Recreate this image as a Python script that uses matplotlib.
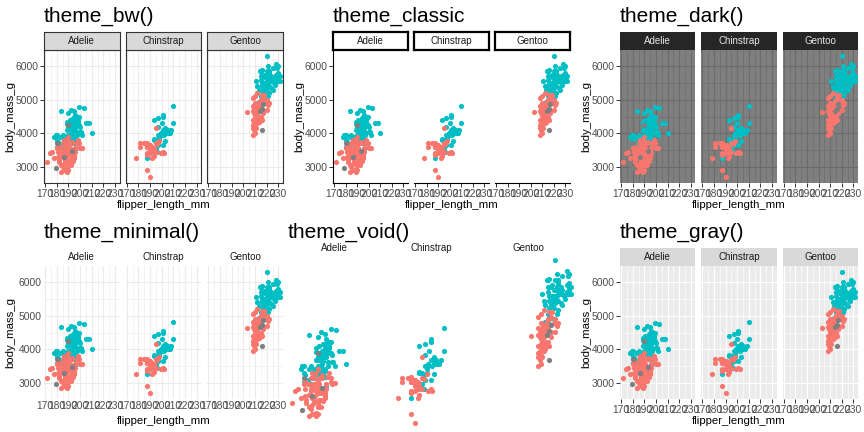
import numpy as np
import matplotlib.pyplot as plt

plt.rcParams['font.family'] = ['Liberation Sans', 'DejaVu Sans']

species = ['Adelie', 'Chinstrap', 'Gentoo']
x_ticks = [170, 180, 190, 200, 210, 220, 230]
y_ticks = [3000, 4000, 5000, 6000]
x_minor = [175, 185, 195, 205, 215, 225]
y_minor = [3500, 4500, 5500]

# flipper_length_mm, body_mass_g (approximate)
adelie_f_flip = [186, 195, 193, 181, 182, 185, 195, 184, 174, 189, 183, 187, 172, 178, 188, 195,
                 180, 181, 182, 186, 185, 190, 191, 187, 186, 191, 189, 187, 190, 184, 195, 190,
                 190, 187, 185, 190, 193, 185, 184, 195, 187, 192, 186, 192, 190, 198, 199, 190,
                 196, 197, 199, 191, 184, 187, 189, 193, 194, 187, 196, 187, 189, 200, 191, 192,
                 190, 185, 186, 190, 176, 202, 192, 188, 181]
adelie_f_mass = [3800, 3250, 3450, 3625, 3200, 3700, 3450, 3325, 3400, 3800, 3550, 3200, 3150, 3250, 3300, 3325,
                 3550, 3300, 3150, 3100, 3000, 3450, 3500, 3450, 2900, 3550, 2850, 3150, 3600, 2850, 3350, 3050,
                 3600, 3550, 3400, 3350, 3700, 3450, 3550, 3300, 3700, 3200, 3250, 3400, 3150, 3800, 3700, 2900,
                 3450, 3725, 3600, 3700, 3050, 3700, 2925, 3750, 3175, 3450, 3550, 3500, 3400, 3550, 3200, 3050,
                 3150, 3300, 3475, 3900, 3450, 3575, 3350, 2900, 3450]
adelie_m_flip = [181, 190, 195, 191, 198, 197, 194, 180, 185, 180, 187, 180, 178, 184, 196, 190,
                 184, 195, 196, 190, 186, 190, 196, 197, 190, 195, 191, 193, 197, 190, 197, 195,
                 200, 194, 199, 203, 210, 205, 208, 199, 193, 194, 195, 192, 190, 198, 202, 195,
                 196, 194, 191, 193, 201, 199, 183, 179, 187, 189, 196, 191, 194, 185, 193, 196,
                 189, 192, 198, 200, 195, 197, 191, 189, 193]
adelie_m_mass = [3750, 3650, 4675, 3800, 4400, 4500, 4200, 3600, 3950, 3800, 3800, 3950, 3900, 3900, 4150, 3950,
                 4650, 3900, 4400, 4600, 3500, 3900, 4300, 4250, 4150, 3850, 4400, 4000, 3950, 3900, 4300, 4450,
                 4050, 4450, 4775, 4750, 4000, 4300, 4300, 4500, 4300, 4075, 4150, 3925, 3725, 4350, 3950, 3725,
                 4250, 3800, 4100, 3875, 4050, 4250, 3650, 3950, 3900, 4275, 3525, 4200, 3775, 3550, 4200, 4550,
                 4100, 4700, 4500, 4200, 4350, 4050, 4250, 4350, 4150]
adelie_na_flip = [193, 190, 186, 180, 179]
adelie_na_mass = [3475, 4250, 3300, 3700, 2975]

chinstrap_f_flip = [192, 187, 193, 190, 187, 190, 185, 181, 178, 195, 187, 190, 191, 187, 193, 189,
                    193, 187, 196, 195, 199, 191, 202, 190, 193, 187, 195, 192, 187, 198, 192, 190, 201, 181]
chinstrap_f_mass = [3500, 3400, 3500, 3525, 2900, 2700, 3700, 3700, 3250, 3700, 3725, 3400, 3575, 3600, 3325, 3650,
                    3450, 3350, 3675, 3450, 3400, 3450, 3400, 3575, 3550, 3600, 4150, 3250, 3675, 3775, 3600, 3650,
                    3450, 3600]
chinstrap_m_flip = [187, 193, 196, 197, 193, 197, 201, 201, 210, 210, 207, 203, 205, 199, 195, 196,
                    193, 197, 198, 203, 201, 197, 205, 203, 201, 203, 198, 200, 194, 202, 206, 199, 195, 208]
chinstrap_m_mass = [3250, 3800, 3450, 3950, 4400, 4450, 4550, 4500, 4800, 4300, 4000, 4100, 4000, 3950, 3800, 3750,
                    3825, 3650, 3800, 4050, 4100, 4200, 4100, 4150, 3650, 3775, 3900, 4300, 3500, 3950, 4000, 4000,
                    3550, 4100]

gentoo_f_flip = [211, 210, 210, 213, 210, 211, 209, 214, 210, 212, 208, 214, 215, 210, 208, 212,
                 211, 217, 210, 208, 217, 213, 209, 216, 209, 210, 215, 213, 220, 218, 217, 208,
                 212, 214, 215, 210, 209, 208, 203, 212, 213, 212, 211, 210, 222, 221, 220, 211,
                 208, 214, 216, 219, 210, 208, 215, 209, 212, 216]
gentoo_f_mass = [4500, 4450, 4150, 4650, 4200, 4150, 4600, 4875, 4700, 4750, 4400, 4700, 4800, 4550, 4650, 4300,
                 4750, 4600, 4625, 4250, 4700, 4500, 4300, 4400, 4250, 4400, 4500, 4325, 5000, 5150, 5050, 5050,
                 5200, 4750, 5000, 4900, 4100, 3950, 4625, 4450, 4350, 4600, 4350, 5100, 4900, 4850, 4700, 4800,
                 4800, 4950, 5000, 4900, 4000, 4150, 4400, 4725, 4875, 5150]
gentoo_m_flip = [217, 221, 230, 220, 230, 222, 220, 231, 219, 215, 220, 228, 224, 225, 223, 217,
                 222, 216, 222, 215, 225, 230, 218, 220, 212, 220, 226, 220, 215, 229, 221, 224,
                 231, 218, 224, 228, 222, 218, 225, 215, 219, 228, 230, 216, 220, 216, 227, 224,
                 216, 222, 221, 213, 228, 222, 223, 225, 230, 213, 215, 221, 211, 214, 216, 219]
gentoo_m_mass = [5700, 5700, 5800, 5400, 5650, 5850, 5850, 5550, 5250, 5700, 5400, 6050, 5350, 5300, 5550, 5300,
                 5400, 5000, 5200, 5100, 5650, 5550, 5400, 5350, 5400, 5500, 5500, 5500, 5850, 5950, 5500, 5650,
                 5700, 5750, 5550, 5600, 5800, 5500, 5950, 5600, 5650, 5750, 6000, 5250, 6300, 5400, 5450, 5700,
                 5500, 5750, 6000, 5300, 5550, 5600, 5650, 5550, 5700, 4925, 4925, 5100, 5550, 5850, 5875, 5000]
gentoo_na_flip = [216, 216, 217, 214]
gentoo_na_mass = [4725, 4100, 4875, 4650]

female = {'Adelie': (adelie_f_flip, adelie_f_mass), 'Chinstrap': (chinstrap_f_flip, chinstrap_f_mass),
          'Gentoo': (gentoo_f_flip, gentoo_f_mass)}
male = {'Adelie': (adelie_m_flip, adelie_m_mass), 'Chinstrap': (chinstrap_m_flip, chinstrap_m_mass),
        'Gentoo': (gentoo_m_flip, gentoo_m_mass)}
nosex = {'Adelie': (adelie_na_flip, adelie_na_mass), 'Chinstrap': ([], []),
         'Gentoo': (gentoo_na_flip, gentoo_na_mass)}

themes = {
    'bw':      dict(bg='white', major='#EBEBEB', minor='#EBEBEB', border='#333333',
                    strip='#D9D9D9', strip_edge='#333333', strip_lw=0.8, strip_txt='#1A1A1A', ticks=True),
    'classic': dict(bg='white', major=None, minor=None, border=None, axis_line=True,
                    strip='white', strip_edge='black', strip_lw=1.6, strip_txt='#1A1A1A', ticks=True),
    'dark':    dict(bg='#7F7F7F', major='#6B6B6B', minor='#6B6B6B', border=None,
                    strip='#262626', strip_edge=None, strip_lw=0, strip_txt='#E5E5E5', ticks=True),
    'minimal': dict(bg='white', major='#EBEBEB', minor='#EBEBEB', border=None,
                    strip=None, strip_edge=None, strip_lw=0, strip_txt='#1A1A1A', ticks=False),
    'gray':    dict(bg='#EBEBEB', major='white', minor='white', border=None,
                    strip='#D9D9D9', strip_edge=None, strip_lw=0, strip_txt='#1A1A1A', ticks=True),
}

W, H = 864, 432
fig = plt.figure(figsize=(8.64, 4.32), dpi=100)
XLIM = (169.05, 233.95)
YLIM = (2520, 6480)
COLS = {'female': '#F8766D', 'male': '#00BFC4', 'na': '#7F7F7F'}
PT = 14


def px_axes(x0, y0, x1, y1):
    # pixel box, y measured from the top
    return fig.add_axes([x0 / W, 1 - y1 / H, (x1 - x0) / W, (y1 - y0) / H])


def points(ax, sp):
    ax.scatter(*male[sp], s=PT, c=COLS['male'], linewidths=0, zorder=3)
    ax.scatter(*female[sp], s=PT, c=COLS['female'], linewidths=0, zorder=3)
    if len(nosex[sp][0]):
        ax.scatter(*nosex[sp], s=PT, c=COLS['na'], linewidths=0, zorder=3)


def themed_plot(title, name, left, right, top):
    t = themes[name]
    strip_top, ptop, pbot = top + 16, top + 34, top + 167
    gap = 6
    pw = (right - left - 2 * gap) / 3
    fig.text(left / W, 1 - (top) / H, title, fontsize=15, va='center', ha='left')
    for i, sp in enumerate(species):
        x0 = left + i * (pw + gap)
        ax = px_axes(x0, ptop, x0 + pw, pbot)
        ax.set_facecolor(t['bg'])
        ax.set_xlim(*XLIM)
        ax.set_ylim(*YLIM)
        ax.set_xticks(x_ticks)
        ax.set_xticks(x_minor, minor=True)
        ax.set_yticks(y_ticks)
        ax.set_yticks(y_minor, minor=True)
        ax.set_xticklabels([str(v) for v in x_ticks])
        ax.set_yticklabels([str(v) for v in y_ticks])
        if t['major']:
            ax.grid(True, which='major', color=t['major'], lw=0.8, zorder=0)
            ax.grid(True, which='minor', color=t['minor'], lw=0.4, zorder=0)
        ax.set_axisbelow(True)
        for s in ax.spines.values():
            s.set_visible(False)
        if t['border']:
            for s in ax.spines.values():
                s.set_visible(True)
                s.set_color(t['border'])
                s.set_linewidth(0.8)
        if t.get('axis_line'):
            ax.spines['bottom'].set_visible(True)
            ax.spines['bottom'].set_color('black')
            ax.spines['bottom'].set_linewidth(0.8)
            if i == 0:
                ax.spines['left'].set_visible(True)
                ax.spines['left'].set_color('black')
                ax.spines['left'].set_linewidth(0.8)
        tl = 2.6 if t['ticks'] else 0
        ax.tick_params(which='major', length=tl, width=0.7, color='#333333',
                       labelsize=7.4, labelcolor='#4D4D4D', pad=1.5)
        ax.tick_params(which='minor', length=0)
        if i > 0:
            ax.tick_params(axis='y', left=False, labelleft=False)
        points(ax, sp)

        sax = px_axes(x0, strip_top, x0 + pw, ptop)
        sax.set_xticks([])
        sax.set_yticks([])
        if t['strip']:
            sax.set_facecolor(t['strip'])
        else:
            sax.patch.set_visible(False)
        for s in sax.spines.values():
            if t['strip_edge']:
                s.set_color(t['strip_edge'])
                s.set_linewidth(t['strip_lw'])
            else:
                s.set_visible(False)
        sax.text(0.5, 0.5, sp, transform=sax.transAxes, ha='center', va='center',
                 fontsize=7, color=t['strip_txt'])

    fig.text((left - 34) / W, 1 - (ptop + pbot) / 2 / H, 'body_mass_g', rotation=90,
             fontsize=8.2, ha='center', va='center')
    fig.text((left + right) / 2 / W, 1 - (pbot + 22) / H, 'flipper_length_mm',
             fontsize=8.2, ha='center', va='center')


def void_plot(title, left, right, top):
    gap = 5
    pw = (right - left - 2 * gap) / 3
    fig.text(left / W, 1 - top / H, title, fontsize=15, va='center', ha='left')
    for i, sp in enumerate(species):
        x0 = left + i * (pw + gap)
        ax = px_axes(x0, top + 20, x0 + pw, 431)
        ax.set_xlim(*XLIM)
        ax.set_ylim(*YLIM)
        ax.axis('off')
        points(ax, sp)
        fig.text((x0 + pw / 2) / W, 1 - (top + 16) / H, sp, fontsize=7,
                 color='#1A1A1A', ha='center', va='center')


themed_plot('theme_bw()', 'bw', 44, 283, 16)
themed_plot('theme_classic', 'classic', 333, 570, 16)
themed_plot('theme_dark()', 'dark', 620, 858, 16)
themed_plot('theme_minimal()', 'minimal', 44, 283, 232)
void_plot('theme_void()', 288, 575, 232)
themed_plot('theme_gray()', 'gray', 620, 858, 232)

fig.savefig('out.png', dpi=100)
